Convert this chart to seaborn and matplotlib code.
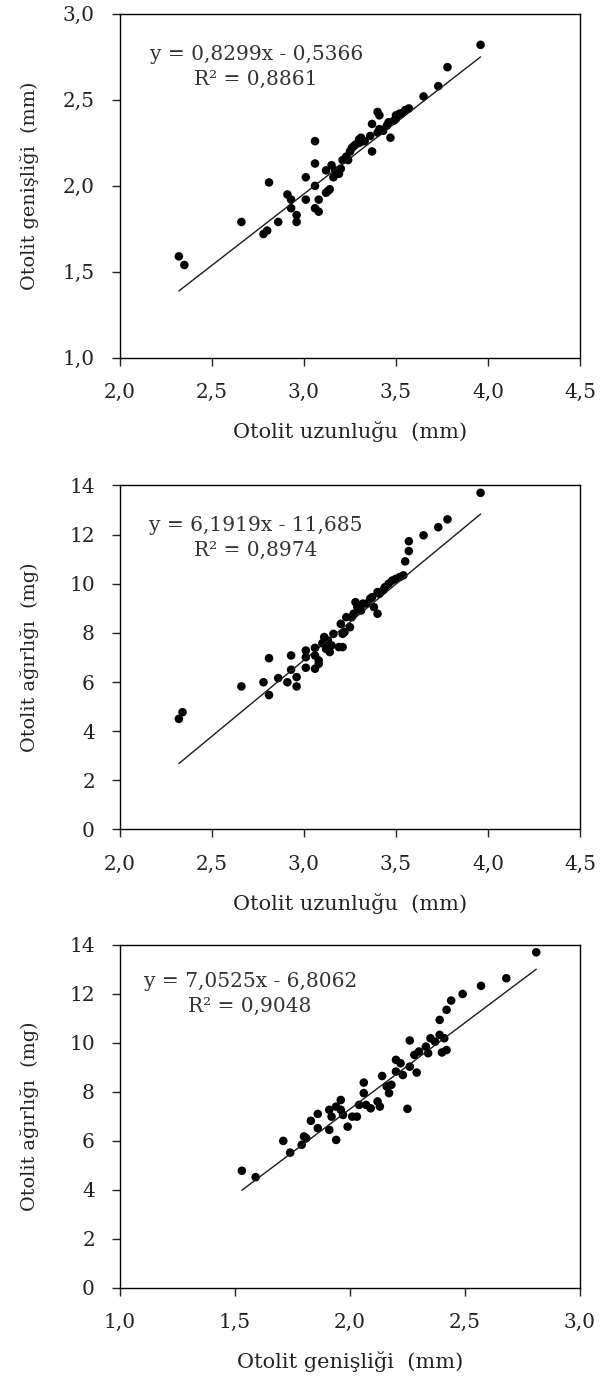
import numpy as np
import pandas as pd
import matplotlib
matplotlib.use('Agg')
import matplotlib.pyplot as plt
import seaborn as sns
from matplotlib.ticker import FuncFormatter

# Panel 1: otolit uzunluğu vs genişliği
len_1 = [2.32, 2.35, 2.66, 2.78, 2.80, 2.81, 2.86, 2.91, 2.93, 2.93, 2.96, 2.96, 3.01, 3.01,
         3.06, 3.06, 3.06, 3.06, 3.08, 3.08, 3.12, 3.13, 3.14, 3.12, 3.15, 3.16, 3.17, 3.19,
         3.20, 3.21, 3.23, 3.24, 3.25, 3.26, 3.27, 3.28, 3.30, 3.30, 3.31, 3.32, 3.33, 3.36,
         3.37, 3.37, 3.40, 3.41, 3.40, 3.41, 3.43, 3.45, 3.46, 3.47, 3.49, 3.50, 3.50, 3.52,
         3.53, 3.55, 3.57, 3.65, 3.73, 3.78, 3.96]
wid_1 = [1.59, 1.54, 1.79, 1.72, 1.74, 2.02, 1.79, 1.95, 1.92, 1.87, 1.83, 1.79, 2.05, 1.92,
         2.26, 2.13, 2.00, 1.87, 1.92, 1.85, 1.96, 1.97, 1.98, 2.09, 2.12, 2.05, 2.09, 2.07,
         2.10, 2.15, 2.17, 2.15, 2.20, 2.22, 2.23, 2.24, 2.25, 2.27, 2.28, 2.26, 2.26, 2.29,
         2.20, 2.36, 2.43, 2.41, 2.31, 2.33, 2.32, 2.35, 2.37, 2.28, 2.38, 2.39, 2.41, 2.42,
         2.42, 2.44, 2.45, 2.52, 2.58, 2.69, 2.82]

# Panel 2: otolit uzunluğu vs ağırlığı
len_2 = [2.32, 2.34, 2.66, 2.78, 2.81, 2.81, 2.86, 2.91, 2.93, 2.93, 2.96, 2.96, 3.01, 3.01,
         3.01, 3.06, 3.06, 3.06, 3.08, 3.08, 3.10, 3.11, 3.12, 3.13, 3.14, 3.15, 3.16, 3.19,
         3.20, 3.21, 3.21, 3.22, 3.23, 3.25, 3.26, 3.27, 3.28, 3.29, 3.30, 3.31, 3.32, 3.34,
         3.36, 3.37, 3.38, 3.40, 3.40, 3.41, 3.43, 3.44, 3.46, 3.48, 3.50, 3.52, 3.54, 3.55,
         3.57, 3.57, 3.65, 3.73, 3.78, 3.96]
wgt_2 = [4.50, 4.77, 5.82, 5.99, 6.97, 5.47, 6.16, 5.99, 7.08, 6.50, 6.20, 5.82, 7.28, 7.01,
         6.58, 7.39, 7.08, 6.54, 6.88, 6.74, 7.58, 7.83, 7.35, 7.69, 7.22, 7.49, 7.96, 7.42,
         8.37, 7.42, 7.96, 8.03, 8.64, 8.23, 8.64, 8.78, 9.25, 9.05, 8.98, 8.91, 9.19, 9.19,
         9.39, 9.45, 9.05, 8.78, 9.66, 9.59, 9.73, 9.86, 10.00, 10.13, 10.20, 10.27, 10.34,
         10.91, 11.33, 11.73, 11.97, 12.30, 12.62, 13.70]

# Panel 3: otolit genişliği vs ağırlığı
wid_3 = [1.53, 1.59, 1.71, 1.74, 1.79, 1.80, 1.81, 1.83, 1.86, 1.86, 1.91, 1.91, 1.92, 1.94,
         1.94, 1.96, 1.96, 1.99, 1.97, 2.01, 2.03, 2.04, 2.06, 2.06, 2.07, 2.09, 2.12, 2.13,
         2.14, 2.16, 2.17, 2.18, 2.20, 2.20, 2.22, 2.23, 2.25, 2.26, 2.26, 2.28, 2.29, 2.30,
         2.33, 2.34, 2.35, 2.37, 2.39, 2.40, 2.41, 2.42, 2.39, 2.42, 2.44, 2.49, 2.57, 2.68, 2.81]
wgt_3 = [4.78, 4.52, 6.00, 5.52, 5.84, 6.18, 6.11, 6.82, 7.10, 6.52, 6.45, 7.27, 6.99, 7.40,
         6.04, 7.67, 7.27, 6.58, 7.06, 6.99, 6.99, 7.47, 8.38, 7.95, 7.47, 7.33, 7.61, 7.40,
         8.65, 8.22, 7.95, 8.29, 9.31, 8.83, 9.17, 8.69, 7.31, 9.03, 10.10, 9.51, 8.79, 9.65,
         9.85, 9.58, 10.19, 10.05, 10.33, 9.61, 10.19, 9.71, 10.94, 11.35, 11.73, 12.00, 12.33,
         12.64, 13.70]

# regresyon katsayıları ve R2 (grafikteki denklemler)
slopes = [0.8299, 6.1919, 7.0525]
intercepts = [-0.5366, -11.685, -6.8062]
eq_texts = ['y = 0,8299x - 0,5366\nR² = 0,8861',
            'y = 6,1919x - 11,685\nR² = 0,8974',
            'y = 7,0525x - 6,8062\nR² = 0,9048']
x_labels = ['Otolit uzunluğu  (mm)', 'Otolit uzunluğu  (mm)', 'Otolit genişliği  (mm)']
y_labels = ['Otolit genişliği  (mm)', 'Otolit ağırlığı  (mg)', 'Otolit ağırlığı  (mg)']

sns.set_style('ticks')
plt.rcParams['font.family'] = ['DejaVu Serif']

fig = plt.figure(figsize=(6.06, 13.87), dpi=100)
boxes = [[0.198, 0.742, 0.759, 0.248],
         [0.198, 0.402, 0.759, 0.248],
         [0.198, 0.0715, 0.759, 0.2472]]

panels = [(len_1, wid_1), (len_2, wgt_2), (wid_3, wgt_3)]
xlims = [(2.0, 4.5), (2.0, 4.5), (1.0, 3.0)]
ylims = [(1.0, 3.0), (0, 14), (0, 14)]
xticks = [np.arange(2.0, 4.51, 0.5), np.arange(2.0, 4.51, 0.5), np.arange(1.0, 3.01, 0.5)]
yticks = [np.arange(1.0, 3.01, 0.5), np.arange(0, 15, 2), np.arange(0, 15, 2)]
text_pos = [(0.296, 0.845), (0.296, 0.847), (0.283, 0.856)]

comma1 = FuncFormatter(lambda v, p: f'{v:.1f}'.replace('.', ','))
intfmt = FuncFormatter(lambda v, p: f'{v:.0f}')

for i, (xs, ys) in enumerate(panels):
    ax = fig.add_axes(boxes[i])
    df = pd.DataFrame({'x': xs, 'y': ys})
    sns.scatterplot(data=df, x='x', y='y', ax=ax, color='black', s=38,
                    edgecolor='none', linewidth=0)
    xl = np.array([min(xs), max(xs)])
    ax.plot(xl, slopes[i] * xl + intercepts[i], color='#1a1a1a', lw=1.0)
    ax.set_xlim(*xlims[i])
    ax.set_ylim(*ylims[i])
    ax.set_xticks(xticks[i])
    ax.set_yticks(yticks[i])
    ax.xaxis.set_major_formatter(comma1)
    ax.yaxis.set_major_formatter(comma1 if i == 0 else intfmt)
    for sp in ax.spines.values():
        sp.set_visible(True)
        sp.set_color('black')
        sp.set_linewidth(1.0)
    ax.tick_params(direction='out', length=6, width=1.0, labelsize=14.5, colors='#222222')
    ax.tick_params(axis='x', pad=12)
    ax.tick_params(axis='y', pad=12)
    ax.set_xlabel(x_labels[i], fontsize=15, color='#222222', labelpad=14)
    ax.set_ylabel(y_labels[i], fontsize=13.8, color='#222222')
    ax.yaxis.set_label_coords(-0.175, 0.5)
    ax.text(text_pos[i][0], text_pos[i][1], eq_texts[i], transform=ax.transAxes,
            ha='center', va='center', fontsize=14.5, color='#333333', linespacing=1.4)

fig.savefig('out.png', dpi=100)
